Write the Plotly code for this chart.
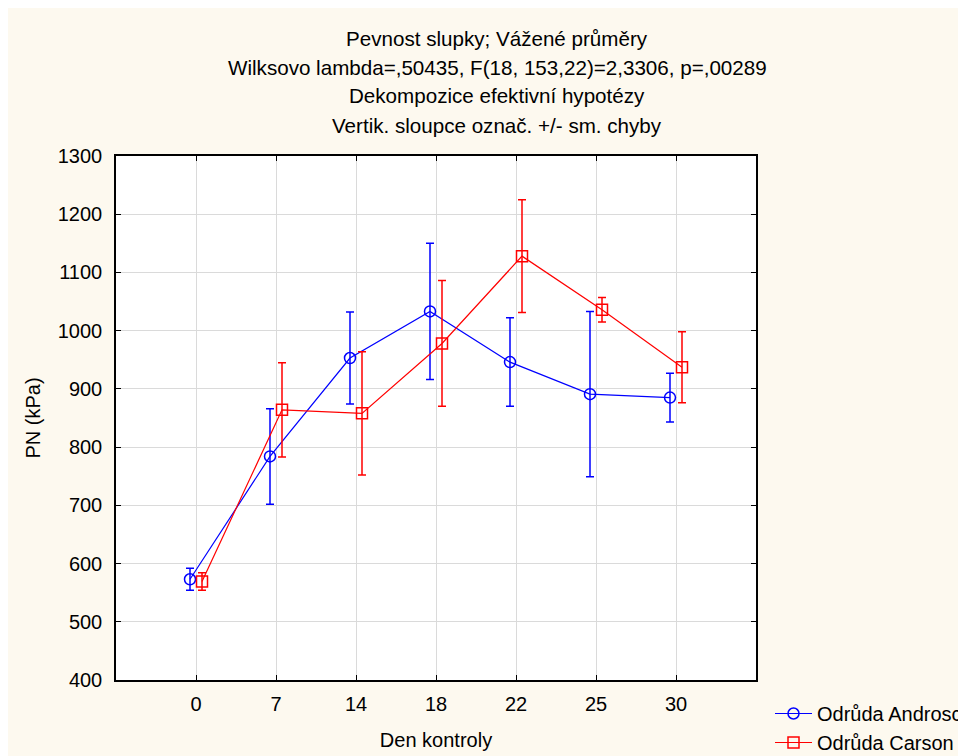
import plotly.graph_objects as go

days = ["0", "7", "14", "18", "22", "25", "30"]
andross_mean = [573, 784, 953, 1033, 946, 891, 885]
andross_se = [19, 82, 79, 117, 76, 142, 42]
carson_mean = [569, 864, 858, 978, 1128, 1036, 937]
carson_se = [15, 81, 106, 108, 97, 21, 61]

title_lines = [
    "Pevnost slupky; Vážené průměry",
    "Wilksovo lambda=,50435, F(18, 153,22)=2,3306, p=,00289",
    "Dekompozice efektivní hypotézy",
    "Vertik. sloupce označ. +/- sm. chyby",
]

FONT = "Liberation Sans, Arial, sans-serif"
FS = 20
idx = list(range(len(days)))
off = 0.075

fig = go.Figure()
fig.add_trace(go.Scatter(
    x=[i - off for i in idx], y=andross_mean,
    mode="lines+markers", name="Odrůda Androscoggin",
    line=dict(color="#0000FF", width=1.2),
    marker=dict(symbol="circle-open", size=11, color="#0000FF", line=dict(width=1.5)),
    error_y=dict(type="data", array=andross_se, visible=True, color="#0000FF", thickness=1.5, width=4),
))
fig.add_trace(go.Scatter(
    x=[i + off for i in idx], y=carson_mean,
    mode="lines+markers", name="Odrůda Carson",
    line=dict(color="#FF0000", width=1.2),
    marker=dict(symbol="square-open", size=11, color="#FF0000", line=dict(width=1.5)),
    error_y=dict(type="data", array=carson_se, visible=True, color="#FF0000", thickness=1.5, width=4),
))

# figure coordinates (page shows the figure offset by the body margin)
L, T, R, B = 108, 148, 748, 672
W, H = 966, 756
ph = B - T
for txt, ypix in zip(title_lines, [30, 59, 88, 117]):
    fig.add_annotation(
        text=txt, xref="paper", yref="paper",
        x=(489 - L) / (R - L), y=(B - ypix) / ph,
        xanchor="center", yanchor="middle", showarrow=False,
        font=dict(family=FONT, size=20.6, color="black"),
    )

fig.update_layout(
    width=W, height=H,
    margin=dict(l=L, r=W - R, t=T, b=H - B, autoexpand=False),
    paper_bgcolor="#FDF9EF", plot_bgcolor="white",
    font=dict(family=FONT, size=FS, color="black"),
    showlegend=True,
    legend=dict(
        x=(762 - L) / (R - L), y=(B - 686) / ph, xanchor="left", yanchor="top",
        bgcolor="rgba(0,0,0,0)", font=dict(family=FONT, size=FS),
        tracegroupgap=0, itemwidth=37,
    ),
)
fig.update_xaxes(
    range=[-1, 7], tickvals=idx, ticktext=days,
    showline=True, mirror="ticks", linecolor="black", linewidth=1.5,
    ticks="inside", ticklen=5, tickcolor="black", ticklabelstandoff=5,
    tickfont=dict(size=FS),
    showgrid=True, gridcolor="#DADADA", gridwidth=1, zeroline=False,
    title=dict(text="Den kontroly", font=dict(family=FONT, size=FS), standoff=19),
)
fig.update_yaxes(
    range=[400, 1300], dtick=100, tick0=400,
    showline=True, mirror="ticks", linecolor="black", linewidth=1.5,
    ticks="inside", ticklen=5, tickcolor="black", ticklabelstandoff=8,
    tickfont=dict(size=FS),
    showgrid=True, gridcolor="#DADADA", gridwidth=1, zeroline=False,
    title=dict(text="PN (kPa)", font=dict(family=FONT, size=FS), standoff=12),
)

fig.write_html("out.html")
